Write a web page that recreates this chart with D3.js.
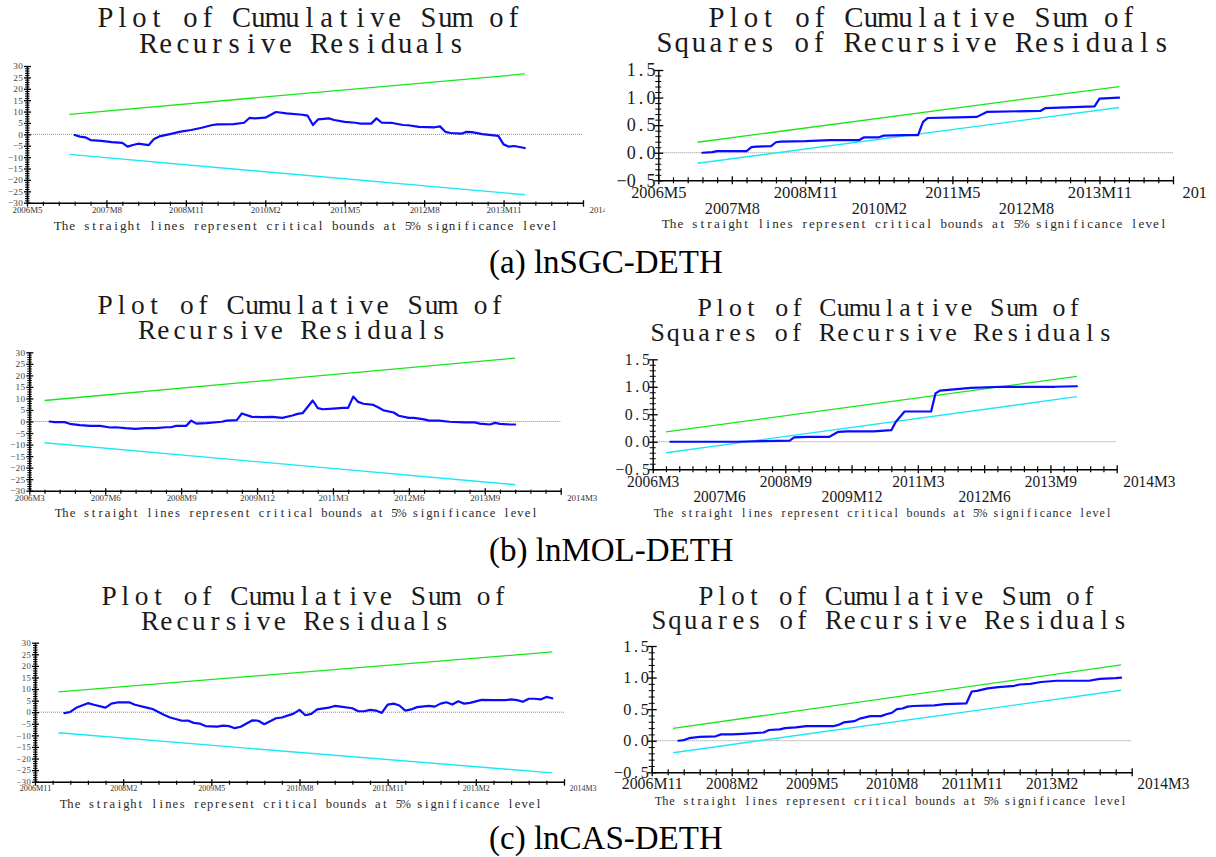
<!DOCTYPE html>
<html><head><meta charset="utf-8">
<script src="https://cdn.jsdelivr.net/npm/d3@7"></script>
<style>html,body{margin:0;padding:0;background:#fff}</style>
</head><body>
<svg id="chart" width="1216" height="857"></svg>
<script>
// ---------------- text ----------------
const titleCusum = ["Plot of Cumulative Sum of", "Recursive Residuals"];
const titleSq = ["Plot of Cumulative Sum of", "Squares of Recursive Residuals"];
const captionText = "The straight lines represent critical bounds at 5% significance level";
const pairNames = ["(a) lnSGC-DETH", "(b) lnMOL-DETH", "(c) lnCAS-DETH"];

// ---------------- (a) lnSGC-DETH : months after 2006M5 ----------------
const sgcTicks = ["2006M5","2007M8","2008M11","2010M2","2011M5","2012M8","2013M11","2014M3"];
const sgcCusumMonth = [9,10,11,12,14,16,18,19,20,21,23,24,25,27,29,31,33,35,36,39,41,42,43,45,47,49,52,53,54,55,57,58,60,62,63,65,66,67,69,71,72,74,77,78,79,80,82,83,84,86,89,90,91,92,94];
const sgcCusumValue = [-0.3,-1.0,-1.3,-2.5,-2.9,-3.4,-3.7,-5.4,-4.7,-4.1,-4.7,-2.0,-0.9,0.1,1.2,1.9,2.9,4.1,4.4,4.5,5.1,7.2,7.0,7.3,9.8,9.2,8.6,8.2,4.1,6.6,7.0,6.3,5.5,5.1,4.7,4.7,7.0,5.1,5.0,4.1,4.0,3.3,3.1,3.5,1.1,0.6,0.3,1.1,1.0,0.1,-0.7,-4.4,-5.4,-5.1,-6.0];
const sgcCusumBoundMonth = [8, 94];
const sgcCusumUpper = [8.8, 26.5];
const sgcCusumLower = [-8.8, -26.5];
const sgcSqMonth = [9,11,12,15,18,19,20,23,24,25,30,35,41,42,45,46,50,53,54,55,61,65,67,78,79,89,90,94];
const sgcSqValue = [0,0.01,0.03,0.03,0.03,0.10,0.11,0.12,0.19,0.20,0.21,0.23,0.23,0.28,0.28,0.31,0.32,0.32,0.56,0.63,0.64,0.65,0.74,0.76,0.81,0.84,0.98,1.0];
const sgcSqBoundMonth = [8, 94];
const sgcSqUpper = [0.19, 1.2];
const sgcSqLower = [-0.19, 0.82];

// ---------------- (b) lnMOL-DETH : months after 2006M3 ----------------
const molTicks = ["2006M3","2007M6","2008M9","2009M12","2011M3","2012M6","2013M9","2014M3"];
const molCusumMonth = [4,5,7,8,10,12,14,16,17,19,21,23,25,27,28,29,31,32,33,35,38,39,41,42,44,46,48,50,52,53,54,56,57,58,60,62,63,64,65,66,68,69,70,72,73,75,76,78,79,81,83,86,88,89,91,92,93,95,96];
const molCusumValue = [0.0,-0.3,-0.3,-1.0,-1.6,-1.9,-1.9,-2.6,-2.5,-2.9,-3.2,-2.9,-2.9,-2.5,-2.5,-1.9,-1.9,0.4,-0.9,-0.7,-0.1,0.4,0.6,3.5,2.0,1.9,2.0,1.6,2.6,3.3,3.6,9.1,5.8,5.3,5.6,5.9,5.9,10.8,8.5,7.7,7.2,6.1,4.8,3.9,2.5,1.6,1.6,0.9,0.4,0.4,-0.1,-0.4,-0.4,-0.9,-1.3,-0.6,-1.0,-1.3,-1.3];
const molCusumBoundMonth = [3, 96];
const molCusumUpper = [9.1, 27.5];
const molCusumLower = [-9.2, -27.4];
const molSqMonth = [4,12,19,25,31,32,35,40,42,44,50,54,55,57,63,64,65,72,79,91,96];
const molSqValue = [0,0,0,0.01,0.02,0.08,0.09,0.09,0.18,0.19,0.19,0.21,0.36,0.55,0.55,0.88,0.93,0.98,1.0,1.0,1.01];
const molSqBoundMonth = [3, 96];
const molSqUpper = [0.18, 1.19];
const molSqLower = [-0.2, 0.82];

// ---------------- (c) lnCAS-DETH : months after 2006M11 ----------------
const casTicks = ["2006M11","2008M2","2009M5","2010M8","2011M11","2013M2","2014M3"];
const casCusumMonth = [5,6,7,9,10,12,13,14,16,17,19,20,22,23,25,26,27,28,29,31,32,33,34,35,37,38,39,41,42,44,45,46,47,48,50,51,52,54,55,56,57,58,59,60,61,62,63,64,65,67,68,69,70,71,72,73,74,76,78,80,81,82,83,84,85,86,87,88];
const casCusumValue = [-0.4,0.1,1.9,3.9,3.2,2.0,3.7,4.2,4.3,3.2,2.0,1.4,-1.2,-2.3,-3.7,-3.6,-4.6,-4.9,-6.0,-6.2,-5.8,-6.0,-6.9,-6.3,-3.5,-3.7,-5.2,-2.6,-2.3,-0.6,1.0,-1.3,-0.7,1.2,2.0,2.7,2.4,1.7,0.4,0.4,1.0,0.7,-0.3,3.3,3.7,2.9,0.7,1.2,2.2,2.7,2.4,3.7,4.3,3.3,4.7,3.7,4.0,5.3,5.2,5.2,5.5,5.2,4.5,5.8,5.8,5.5,6.6,6.0];
const casCusumBoundMonth = [4, 88];
const casCusumUpper = [8.8, 26.0];
const casCusumLower = [-8.9, -26.2];
const casSqMonth = [5,6,7,9,12,13,15,17,21,22,24,25,27,29,34,35,36,38,39,41,43,44,45,46,47,48,49,53,55,59,60,61,63,65,68,69,71,73,76,82,84,87,88];
const casSqValue = [0,0.01,0.04,0.06,0.07,0.10,0.10,0.11,0.13,0.17,0.18,0.20,0.21,0.23,0.23,0.25,0.29,0.31,0.35,0.39,0.39,0.42,0.44,0.50,0.51,0.54,0.55,0.56,0.58,0.59,0.78,0.79,0.83,0.85,0.87,0.89,0.90,0.93,0.95,0.95,0.98,0.99,1.0];
const casSqBoundMonth = [4, 88];
const casSqUpper = [0.195, 1.2];
const casSqLower = [-0.19, 0.80];

// ---------------- layout ----------------
const SERIF = "'Liberation Serif','Times New Roman','DejaVu Serif',serif";

const panels = [
  {type:'cusum', ticks:sgcTicks, m:sgcCusumMonth, v:sgcCusumValue, bm:sgcCusumBoundMonth, up:sgcCusumUpper, lo:sgcCusumLower,
   x0:27, x1:583, yTop:66, yBot:202.7, titles:[[97,522,18],[140,465,44]], cap:[54,558,225.7],
   xCell:5.0, yCell:5.0, rows:[210], endDx:6, clip:[0,605]},
  {type:'sq', ticks:sgcTicks, m:sgcSqMonth, v:sgcSqValue, bm:sgcSqBoundMonth, up:sgcSqUpper, lo:sgcSqLower,
   x0:658.3, x1:1173, yTop:70, yBot:180.3, titles:[[708,1137,18],[656,1170,43]], cap:[662,1167,224],
   xCell:9.2, yCell:9.8, rows:[191.7,208], endDx:9, clip:[605,1207]},
  {type:'cusum', ticks:molTicks, m:molCusumMonth, v:molCusumValue, bm:molCusumBoundMonth, up:molCusumUpper, lo:molCusumLower,
   x0:29.3, x1:560.7, yTop:352.3, yBot:490.7, titles:[[97,505,305],[139,447,330]], cap:[55,538,513.3],
   xCell:5.0, yCell:5.0, rows:[497.3], endDx:6},
  {type:'sq', ticks:molTicks, m:molSqMonth, v:molSqValue, bm:molSqBoundMonth, up:molSqUpper, lo:molSqLower,
   x0:652.7, x1:1116.7, yTop:359.3, yBot:469.2, titles:[[697,1082,308],[650,1113,333]], cap:[654,1112,513.3],
   xCell:8.7, yCell:8.6, rows:[481.7,496.7], endDx:6},
  {type:'cusum', ticks:casTicks, m:casCusumMonth, v:casCusumValue, bm:casCusumBoundMonth, up:casCusumUpper, lo:casCusumLower,
   x0:35, x1:564, yTop:642.7, yBot:781.7, titles:[[101,508,596],[142,450,621]], cap:[60,542,804],
   xCell:4.5, yCell:4.7, rows:[788.3], endDx:5},
  {type:'sq', ticks:casTicks, m:casSqMonth, v:casSqValue, bm:casSqBoundMonth, up:casSqUpper, lo:casSqLower,
   x0:651.7, x1:1131.7, yTop:646, yBot:772.3, titles:[[698,1097,596],[651,1128,620]], cap:[655,1127,801.7],
   xCell:8.7, yCell:8.8, rows:[783], endDx:5}
];
const pairY = [262, 550, 838];

// character cells (imitates a fixed-pitch serif face)
function cells(str, ax, cw, anchor) {
  const n = str.length;
  return d3.range(n).map(i => {
    if (anchor === 'start') return ax + (i + 0.5) * cw;
    if (anchor === 'end') return ax - (n - i - 0.5) * cw;
    return ax + (i - n / 2 + 0.5) * cw;
  }).map(v => v.toFixed(2)).join(' ');
}
function cellText(g, str, ax, cw, anchor, baseline, fs, fill) {
  return g.append('text').attr('x', cells(str, ax, cw, anchor)).attr('y', baseline)
    .attr('text-anchor', 'middle').attr('font-family', SERIF).attr('font-size', fs)
    .attr('fill', fill).text(str);
}

// ---------------- drawing ----------------
const svg = d3.select('#chart');
svg.append('rect').attr('width',1216).attr('height',857).attr('fill','#fff');
const defs = svg.append('defs');

panels.forEach((p, pi) => {
  const g = svg.append('g');
  if (p.clip) {
    defs.append('clipPath').attr('id','clip'+pi).append('rect')
      .attr('x',p.clip[0]).attr('y',0).attr('width',p.clip[1]-p.clip[0]).attr('height',857);
    g.attr('clip-path',`url(#clip${pi})`);
  }
  const isSq = p.type === 'sq';
  const nInt = p.ticks.length - 1;
  const xMax = 15 * nInt;
  const x = d3.scaleLinear().domain([0, xMax]).range([p.x0, p.x1]);
  const y = d3.scaleLinear().domain(isSq ? [-0.5, 1.5] : [-30, 30]).range([p.yBot, p.yTop]);

  // titles
  (isSq ? titleSq : titleCusum).forEach((t, i) => {
    const [a, b, cy] = p.titles[i];
    const cw = (b - a) / t.length;
    const fs = cw * 1.68;
    cellText(g, t, a, cw, 'start', cy + 0.32 * fs, fs, '#1a1a1a');
  });

  // caption
  {
    const [a, b, cy] = p.cap;
    const cw = (b - a) / captionText.length;
    const fs = cw * 1.8;
    cellText(g, captionText, a, cw, 'start', cy + 0.3 * fs, fs, '#2a2a2a');
  }

  // zero reference line
  g.append('line').attr('x1', x(0)).attr('x2', x(xMax)).attr('y1', y(0)).attr('y2', y(0))
    .attr('stroke', '#8c8c8c').attr('stroke-width', 1).attr('stroke-dasharray', '1 1');

  // x axis: minor ticks
  const xMinor = d3.range(0, xMax + 1, 3).filter(d => d % 15 !== 0);
  const gxm = g.append('g').attr('transform', `translate(0,${p.yBot})`);
  gxm.call(d3.axisBottom(x).tickValues(xMinor).tickSizeInner(3).tickSizeOuter(0).tickFormat(''));
  gxm.select('.domain').remove();
  gxm.selectAll('.tick line').attr('y1', isSq ? -3 : -1).attr('stroke', '#000').attr('stroke-width', 1.2);

  // x axis: major ticks + labels
  const xFs = p.xCell * 1.85;
  const gx = g.append('g').attr('transform', `translate(0,${p.yBot})`);
  gx.call(d3.axisBottom(x).tickValues(d3.range(0, xMax + 1, 15)).tickSizeInner(4).tickSizeOuter(0)
    .tickFormat((d, i) => p.ticks[i]));
  gx.select('.domain').attr('stroke', '#000').attr('stroke-width', 1.4);
  gx.selectAll('.tick line').attr('y1', isSq ? -4 : -2.5).attr('stroke', '#000').attr('stroke-width', 1.3);
  gx.selectAll('.tick text')
    .attr('font-family', SERIF).attr('font-size', xFs).attr('fill', isSq ? '#1a1a1a' : '#333')
    .attr('y', (d, i) => {
      const row = (p.rows.length === 1 || i === nInt || i % 2 === 0) ? p.rows[0] : p.rows[1];
      return row - p.yBot;
    })
    .attr('dy', '0.35em')
    .each(function (d, i) {
      const t = d3.select(this);
      const w = t.text().length * p.xCell;
      t.attr('textLength', w).attr('lengthAdjust', 'spacingAndGlyphs');
      if (i === nInt) t.attr('text-anchor', 'start').attr('x', p.endDx);
      else t.attr('text-anchor', 'middle').attr('x', 0);
    });

  // y axis: minor ticks
  const yMinor = isSq ? d3.range(-5, 16, 1).filter(d => d % 5 !== 0).map(d => d / 10)
                      : d3.range(-30, 31, 1).filter(d => d % 5 !== 0);
  const gym = g.append('g').attr('transform', `translate(${p.x0},0)`);
  gym.call(d3.axisLeft(y).tickValues(yMinor).tickSizeInner(isSq ? 3 : 2).tickSizeOuter(0).tickFormat(''));
  gym.select('.domain').remove();
  gym.selectAll('.tick line').attr('x1', isSq ? 3 : 2.5).attr('stroke', '#000').attr('stroke-width', 1);

  // y axis: major ticks + labels
  const yMajor = isSq ? [-0.5, 0, 0.5, 1, 1.5] : d3.range(-30, 31, 5);
  const fmt = isSq ? (d => d3.format('.1f')(d).replace('-', '\u2212')) : d3.format('d');
  const yFs = p.yCell * 1.85;
  const gy = g.append('g').attr('transform', `translate(${p.x0},0)`);
  gy.call(d3.axisLeft(y).tickValues(yMajor).tickSizeInner(isSq ? 4 : 3).tickSizeOuter(0).tickFormat(fmt));
  gy.select('.domain').attr('stroke', '#000').attr('stroke-width', isSq ? 1.4 : 1.6);
  gy.selectAll('.tick line').attr('x1', isSq ? 5 : 4).attr('stroke', '#000').attr('stroke-width', 1.3);
  gy.selectAll('.tick text').attr('font-family', SERIF).attr('font-size', yFs)
    .attr('fill', isSq ? '#1a1a1a' : '#444')
    .each(function () {
      const s = d3.select(this).text();
      d3.select(this).attr('x', cells(s, isSq ? -2.5 : -4, p.yCell, 'end')).attr('text-anchor', 'middle');
    });

  // bounds and series
  const line = d3.line().x(d => x(d[0])).y(d => y(d[1]));
  g.append('path').datum(d3.zip(p.bm, p.up)).attr('d', line)
    .attr('fill', 'none').attr('stroke', '#19e619').attr('stroke-width', 1.3);
  g.append('path').datum(d3.zip(p.bm, p.lo)).attr('d', line)
    .attr('fill', 'none').attr('stroke', '#1ae8f5').attr('stroke-width', 1.4);
  g.append('path').datum(d3.zip(p.m, p.v)).attr('d', line)
    .attr('fill', 'none').attr('stroke', '#0a0aff').attr('stroke-width', 2.2)
    .attr('stroke-linejoin', 'round').attr('stroke-linecap', 'round');
});

// pair captions
pairNames.forEach((t, i) => {
  svg.append('text').attr('x', 489).attr('y', pairY[i] + 10.5)
    .attr('font-family', SERIF).attr('font-size', 33).attr('fill', '#000').text(t);
});
</script>
</body></html>
